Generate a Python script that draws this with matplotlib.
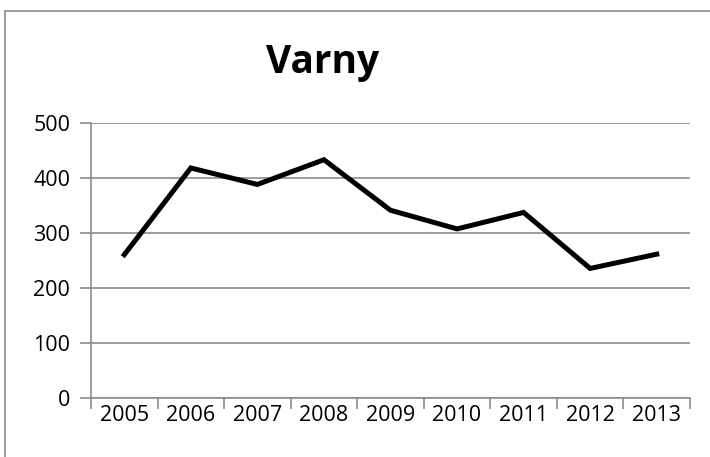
import matplotlib
matplotlib.use('Agg')
import matplotlib.pyplot as plt
import numpy as np
from matplotlib.patches import Rectangle

# ---- Data ----
years = ['2005', '2006', '2007', '2008', '2009', '2010', '2011', '2012', '2013']
values = [261, 419, 389, 434, 342, 308, 338, 236, 262]

W, H = 710, 457
fig = plt.figure(figsize=(W / 100, H / 100), dpi=100)
plt.rcParams['font.family'] = ['Open Sans', 'DejaVu Sans']

# chart frame (Excel-style outer border, runs off right/bottom)
fig.patches.append(Rectangle((5 / W, 0 - 0.05), 1.1, 1 - 11 / H + 0.05,
                             transform=fig.transFigure, fill=False,
                             edgecolor='#8c8c8c', linewidth=1.2))

ax = fig.add_axes([91 / W, 1 - 398 / H, 599 / W, (398 - 123.5) / H])
x = np.arange(len(years))
ax.plot(x, values, color='black', linewidth=3.6, solid_joinstyle='miter')

ax.set_xlim(-0.5, len(years) - 0.5)
ax.set_ylim(0, 500)
ax.set_yticks(np.arange(0, 501, 100))
ax.yaxis.grid(True, color='#8c8c8c', linewidth=1.2)
ax.set_axisbelow(True)

ax.set_xticks(x)
ax.set_xticklabels(years)
ax.set_xticks(np.arange(-0.5, len(years), 1), minor=True)
ax.tick_params(axis='x', which='major', length=0, pad=5, labelsize=15.5)
ax.tick_params(axis='x', which='minor', length=8, color='#8c8c8c', width=1.2)
ax.tick_params(axis='y', length=8, color='#8c8c8c', width=1.2, labelsize=15.5, pad=7)

for s in ['top', 'right']:
    ax.spines[s].set_visible(False)
for s in ['left', 'bottom']:
    ax.spines[s].set_color('#8c8c8c')
    ax.spines[s].set_linewidth(1.2)

fig.text(323 / W, 1 - 62 / H, 'Varny', ha='center', va='center',
         fontsize=28, fontweight='bold', family=['Open Sans', 'DejaVu Sans'])

fig.savefig('out.png', dpi=100)
